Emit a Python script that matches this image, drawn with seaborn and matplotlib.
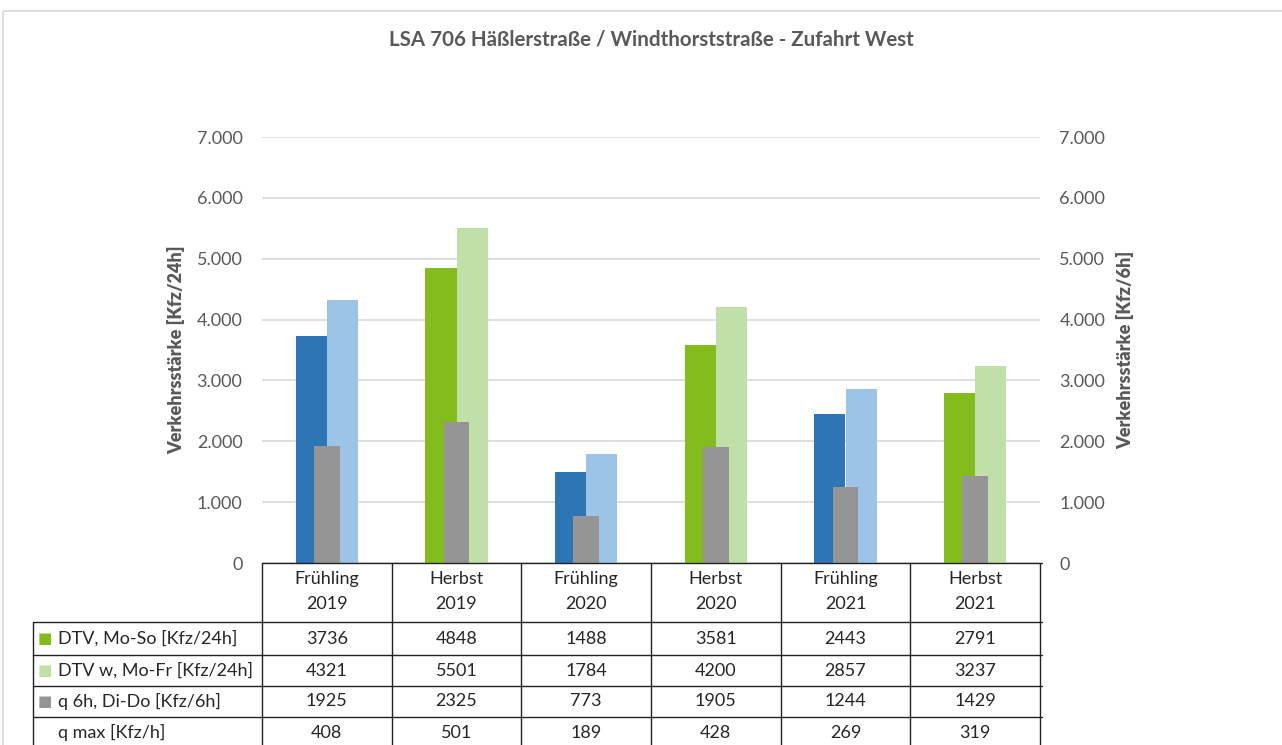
import pandas as pd
import seaborn as sns
import matplotlib.pyplot as plt
from matplotlib.lines import Line2D
from matplotlib.patches import Rectangle
from matplotlib.transforms import blended_transform_factory

# data
seasons = ["Frühling", "Herbst", "Frühling", "Herbst", "Frühling", "Herbst"]
years = ["2019", "2019", "2020", "2020", "2021", "2021"]
dtv = [3736, 4848, 1488, 3581, 2443, 2791]
dtv_w = [4321, 5501, 1784, 4200, 2857, 3237]
q6h = [1925, 2325, 773, 1905, 1244, 1429]
qmax = [408, 501, 189, 428, 269, 319]
row_labels = ["DTV, Mo-So [Kfz/24h]", "DTV w, Mo-Fr [Kfz/24h]",
              "q 6h, Di-Do [Kfz/6h]", "q max [Kfz/h]"]
yticks = [0, 1000, 2000, 3000, 4000, 5000, 6000, 7000]

dark = {"Frühling": "#2E75B6", "Herbst": "#84BC1E"}
light = {"Frühling": "#9DC3E6", "Herbst": "#C1DFA9"}
grey = "#959595"
text_grey = "#595959"

sns.set_style("white")
plt.rcParams["font.family"] = ["Lato", "DejaVu Sans"]

W, H = 1282, 745
fig = plt.figure(figsize=(W / 100, H / 100), dpi=100)
fx = lambda px: px / W
fy = lambda py: 1 - py / H

ax = fig.add_axes([fx(262), fy(563), fx(1040) - fx(262), fy(137) - fy(563)])

cats = [f"{s}\n{y}" for s, y in zip(seasons, years)]
df = pd.DataFrame({
    "cat": cats * 2,
    "series": ["DTV"] * 6 + ["DTVw"] * 6,
    "value": dtv + dtv_w,
})
sns.barplot(data=df, x="cat", y="value", hue="series", hue_order=["DTV", "DTVw"],
            dodge=True, width=0.48, legend=False, ax=ax, zorder=2, errorbar=None,
            linewidth=0)
# recolour by season (Frühling blue, Herbst green)
for bar, s in zip(ax.containers[0], seasons):
    bar.set_facecolor(dark[s])
for bar, s in zip(ax.containers[1], seasons):
    bar.set_facecolor(light[s])

sns.barplot(x=cats, y=q6h, color=grey, width=0.2, ax=ax, zorder=3, errorbar=None,
            saturation=1, linewidth=0)

ax.set_xlim(-0.5, 5.5)
ax.set_ylim(0, 7000)
ax.set_yticks(yticks)
fmt = [f"{v:,.0f}".replace(",", ".") for v in yticks]
ax.set_yticklabels(fmt, color=text_grey, fontsize=13)
ax.set_xticks([])
ax.set_xlabel("")
ax.set_ylabel("Verkehrsstärke [Kfz/24h]", fontsize=13, fontweight="heavy",
              color=text_grey, labelpad=8)
ax.yaxis.grid(True, color="#D9D9D9", linewidth=1.2, zorder=0)
ax.set_axisbelow(True)
ax.tick_params(axis="y", length=0, pad=14)
for sp in ax.spines.values():
    sp.set_visible(False)

ax2 = ax.twinx()
ax2.set_ylim(0, 7000)
ax2.set_yticks(yticks)
ax2.set_yticklabels(fmt, color=text_grey, fontsize=13)
ax2.tick_params(axis="y", length=0, pad=14)
ax2.set_ylabel("Verkehrsstärke [Kfz/6h]", fontsize=13, fontweight="heavy",
               color=text_grey, labelpad=8)
for sp in ax2.spines.values():
    sp.set_visible(False)

fig.suptitle("LSA 706 Häßlerstraße / Windthorststraße - Zufahrt West",
             x=0.508, y=fy(40), va="center", fontsize=14.8, fontweight="bold", color=text_grey)

# outer chart border
fig.add_artist(Rectangle((fx(3), fy(11)), 1.2, -1.2, transform=fig.transFigure,
                         fill=False, edgecolor="#D9D9D9", linewidth=1.2))

# data table under the plot
bt = blended_transform_factory(ax.transData, fig.transFigure)
lc = "#222222"
row_y = [622, 655, 686, 717, 760]
fig.add_artist(Line2D([fx(262), fx(1042)], [fy(563), fy(563)],
                      transform=fig.transFigure, color=lc, lw=1))
for py in row_y[:-1]:
    fig.add_artist(Line2D([fx(33), fx(1042)], [fy(py), fy(py)],
                          transform=fig.transFigure, color=lc, lw=1))
for i in range(len(cats) + 1):
    fig.add_artist(Line2D([i - 0.5, i - 0.5], [fy(563), 0], transform=bt, color=lc, lw=1))
fig.add_artist(Line2D([fx(33), fx(33)], [fy(622), 0], transform=fig.transFigure, color=lc, lw=1))

tc = "#262626"
for i, (s, y) in enumerate(zip(seasons, years)):
    ax.text(i, fy(579), s, transform=bt, ha="center", va="center", fontsize=13, color=tc)
    ax.text(i, fy(604), y, transform=bt, ha="center", va="center", fontsize=13, color=tc)

rows = [dtv, dtv_w, q6h, qmax]
swatch = ["#84BC1E", "#C1DFA9", grey, None]
for r, (lab, vals, sw) in enumerate(zip(row_labels, rows, swatch)):
    yc = fy((row_y[r] + min(row_y[r + 1], 748)) / 2)
    if sw is not None:
        fig.text(fx(38), yc, "■", color=sw, fontsize=11, va="center", ha="left",
                 family="DejaVu Sans")
    fig.text(fx(58), yc, lab, fontsize=13, va="center", ha="left", color=tc)
    for i, v in enumerate(vals):
        ax.text(i, yc, str(v), transform=bt, ha="center", va="center", fontsize=13, color=tc)

fig.savefig("out.png", dpi=100, facecolor="white")
